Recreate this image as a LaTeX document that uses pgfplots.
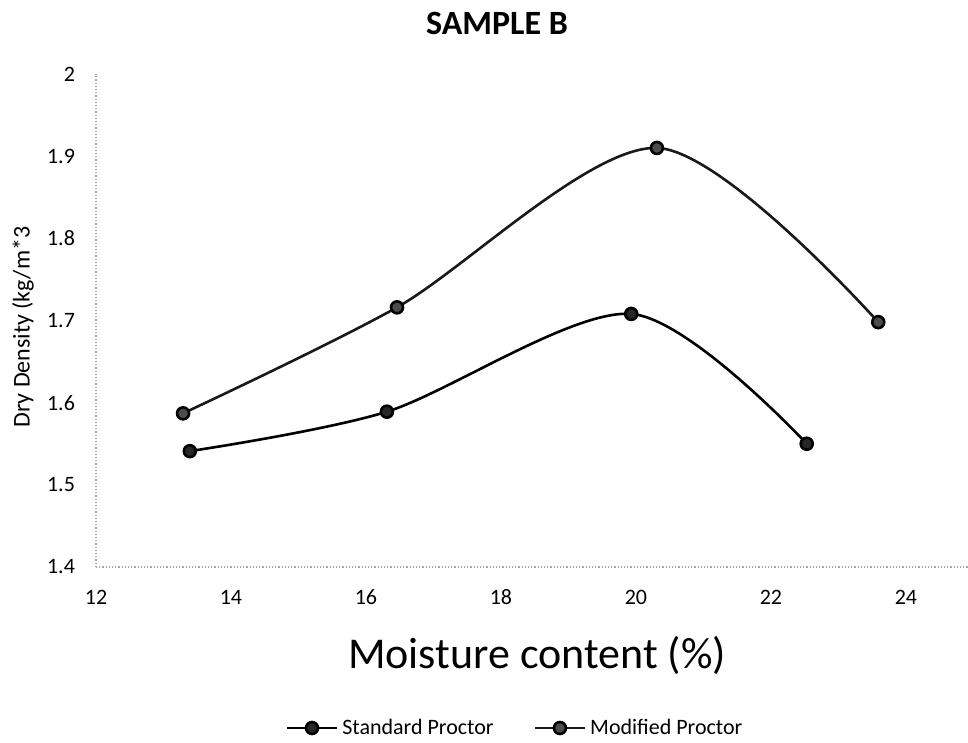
\documentclass[border=0pt]{standalone}
\usepackage{fontspec}
\setmainfont{Carlito}
\usepackage{pgfplots}
\pgfplotsset{compat=1.18}
\begin{document}
\begin{tikzpicture}
\path[use as bounding box] (0,0) rectangle (484pt,371.5pt);
\begin{axis}[
  at={(48pt,88pt)}, anchor=south west,
  scale only axis, width=436pt, height=246.5pt,
  xmin=12, xmax=24.92, ymin=1.4, ymax=2,
  axis x line=bottom, axis y line=left,
  axis line style={-, gray!70, densely dotted, line width=0.6pt},
  xtick={12,14,16,18,20,22,24}, ytick={1.4,1.5,1.6,1.7,1.8,1.9,2},
  xticklabels={12,14,16,18,20,22,24},
  major tick length=0pt,
  tick label style={font=\fontsize{11}{13}\selectfont, black},
  /pgf/number format/assume math mode=true,
  yticklabel style={xshift=-7pt},
  xticklabel style={anchor=base, yshift=-19pt},
  clip=false,
  legend columns=2,
  legend style={at={(0.4817,-0.3266)}, anchor=center, draw=none,
    font=\fontsize{11}{13}\selectfont,
    /tikz/every even column/.append style={column sep=18pt}},
  legend image code/.code={\draw[mark repeat=2,mark phase=2,#1] plot coordinates {(0pt,0pt)(12.5pt,0pt)(25pt,0pt)};},
]
\addplot[black, line width=1.3pt, smooth, mark=*, mark size=3pt, mark options={fill=black!85, draw=black}]
  coordinates {(13.39,1.541)(16.31,1.589)(19.93,1.708)(22.53,1.550)};
\addlegendentry{Standard Proctor}
\addplot[black!90, line width=1.3pt, smooth, mark=*, mark size=3pt, mark options={fill=black!70, draw=black}]
  coordinates {(13.29,1.587)(16.46,1.716)(20.31,1.910)(23.59,1.698)};
\addlegendentry{Modified Proctor}
\end{axis}
\node[font=\bfseries\fontsize{17}{20}\selectfont] at (248.5pt,360pt) {SAMPLE B};
\node[font=\fontsize{22}{26}\selectfont] at (268.5pt,44pt) {Moisture content (\%)};
\node[rotate=90, font=\fontsize{12}{14}\selectfont] at (11.5pt,208pt) {Dry Density (kg/m*3};
\end{tikzpicture}
\end{document}
